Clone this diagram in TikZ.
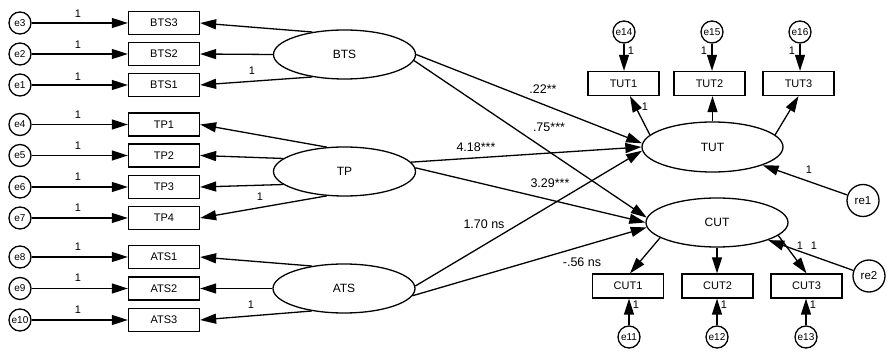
\documentclass[tikz,border=0pt]{standalone}
\usepackage{fontspec}
\setmainfont{Liberation Sans}
\usetikzlibrary{arrows.meta,shapes.geometric,calc}
\begin{document}
\begin{tikzpicture}[x=1pt,y=-1pt,
 every node/.style={inner sep=0pt},
 obs/.style={draw,rectangle,minimum width=71pt,minimum height=23pt,line width=1.3pt,font=\fontsize{11}{13}\selectfont},
 lat/.style={draw,ellipse,minimum width=142pt,minimum height=49pt,line width=1.3pt,font=\fontsize{12}{14}\selectfont},
 err/.style={draw,circle,minimum size=22pt,line width=1.3pt,font=\fontsize{10}{12}\selectfont},
 res/.style={draw,circle,minimum size=32pt,line width=1.3pt,font=\fontsize{11.5}{13}\selectfont},
 arr/.style={line width=1.3pt,-{Triangle[length=16pt,width=10pt]}},
 one/.style={font=\fontsize{11}{13}\selectfont},
 coef/.style={font=\fontsize{12.5}{14}\selectfont}]
\useasboundingbox (0,0) rectangle (888,352);

% latent variables
\node[lat] (BTS) at (344.5,54.5) {BTS};
\node[lat] (TP)  at (344.5,171.5) {TP};
\node[lat] (ATS) at (344,288.5) {ATS};
\node[lat,minimum width=141pt,minimum height=50pt] (TUT) at (712.5,147) {TUT};
\node[lat] (CUT) at (717,222.5) {CUT};

% left indicators
\node[obs] (BTS3) at (164,23) {BTS3};
\node[obs] (BTS2) at (164,54) {BTS2};
\node[obs] (BTS1) at (164,85) {BTS1};
\node[obs] (TP1) at (164,124.5) {TP1};
\node[obs] (TP2) at (164,155.5) {TP2};
\node[obs] (TP3) at (164,187) {TP3};
\node[obs] (TP4) at (164,218) {TP4};
\node[obs] (ATS1) at (164,257) {ATS1};
\node[obs] (ATS2) at (164,288.5) {ATS2};
\node[obs] (ATS3) at (164,320) {ATS3};

% left errors
\node[err] (e3) at (20,23) {e3};
\node[err] (e2) at (20,54) {e2};
\node[err] (e1) at (20,85) {e1};
\node[err] (e4) at (20,124.5) {e4};
\node[err] (e5) at (20,155.5) {e5};
\node[err] (e6) at (20,187) {e6};
\node[err] (e7) at (20,218) {e7};
\node[err] (e8) at (20,257) {e8};
\node[err] (e9) at (20,288.5) {e9};
\node[err] (e10) at (20,320) {e10};

% right indicators
\node[obs,minimum height=24pt] (TUT1) at (623.5,83.5) {TUT1};
\node[obs,minimum height=24pt] (TUT2) at (709.5,83.5) {TUT2};
\node[obs,minimum height=24pt] (TUT3) at (798.5,83.5) {TUT3};
\node[obs,minimum height=24pt] (CUT1) at (628,286) {CUT1};
\node[obs,minimum height=24pt] (CUT2) at (717.5,286) {CUT2};
\node[obs,minimum height=24pt] (CUT3) at (806.5,286) {CUT3};

\node[err] (e14) at (624,32) {e14};
\node[err] (e15) at (712,32) {e15};
\node[err] (e16) at (800,32) {e16};
\node[err] (e11) at (629,337) {e11};
\node[err] (e12) at (717,337) {e12};
\node[err] (e13) at (806,337) {e13};

\node[res] (re1) at (863,200.5) {re1};
\node[res] (re2) at (869,276) {re2};

% error arrows left
\foreach \e/\b in {e3/BTS3,e2/BTS2,e1/BTS1,e4/TP1,e5/TP2,e6/TP3,e7/TP4,e8/ATS1,e9/ATS2,e10/ATS3}
  \draw[arr] (\e) -- (\b.west);
\foreach \e/\y in {e3/14,e2/45,e1/77,e4/115,e5/146,e6/177,e7/208,e8/247,e9/278,e10/310}
  \node[one] (l\e) at (78,\y) {1};

% loadings left
\draw[arr] (BTS.145) -- (BTS3.east);
\draw[arr] (BTS.west) -- (BTS2.east);
\draw[arr] (BTS.215) -- (BTS1.east);
\draw[arr] (TP.126) -- (TP1.east);
\draw[arr] (TP.168) -- (TP2.east);
\draw[arr] (TP.192) -- (TP3.east);
\draw[arr] (TP.234) -- (TP4.east);
\draw[arr] (ATS.145) -- (ATS1.east);
\draw[arr] (ATS.west) -- (ATS2.east);
\draw[arr] (ATS.215) -- (ATS3.east);
\node[one] (lBTS1) at (252,71) {1};
\node[one] (lTP4) at (260,197) {1};
\node[one] (lATS3) at (251,305) {1};

% structural paths
\draw[arr] (BTS.east) -- (TUT.177);
\draw[arr] (BTS.355) -- (CUT.176);
\draw[arr] (TP.8) -- (TUT.180);
\draw[arr] (TP.3) -- (CUT.180);
\draw[arr] (ATS.2) -- (TUT.183);
\draw[arr] (ATS.354) -- (CUT.184);
\node[coef] (c1) at (543,89) {.22**};
\node[coef] (c2) at (549,127) {.75***};
\node[coef] (c3) at (476,147) {4.18***};
\node[coef] (c4) at (550,183) {3.29***};
\node[coef] (c5) at (484,224) {1.70 ns};
\node[coef] (c6) at (582,262) {-.56 ns};

% TUT measurement
\draw[arr] (TUT.169) -- (TUT1);
\draw[arr] (TUT.north) -- (TUT.north |- TUT2.south);
\draw[arr] (TUT.11) -- (TUT3.south);
\node[one] (lTUT1) at (645,107) {1};
\draw[arr] (e14) -- (e14 |- TUT1.north);
\draw[arr] (e15) -- (e15 |- TUT2.north);
\draw[arr] (e16) -- (e16 |- TUT3.north);
\node[one] (le14) at (631,51) {1};
\node[one] (le15) at (704,51) {1};
\node[one] (le16) at (792,51) {1};
\draw[arr] (re1) -- (TUT.340);
\node[one] (lre1) at (809,170) {1};

% CUT measurement
\draw[arr] (CUT.195) -- ($(CUT1.north)+(2,0)$);
\draw[arr] (CUT.south) -- (CUT.south |- CUT2.north);
\draw[arr] (CUT.348) -- (CUT3.north);
\draw[arr] (e11) -- (e11 |- CUT1.south);
\draw[arr] (e12) -- (e12 |- CUT2.south);
\draw[arr] (e13) -- (e13 |- CUT3.south);
\node[one] (le11) at (636,305) {1};
\node[one] (le12) at (724,305) {1};
\node[one] (le13) at (813,305) {1};
\draw[arr] (re2) -- (CUT.341);
\node[one] (lCUT3) at (800,246) {1};
\node[one] (lre2) at (814,246) {1};
\end{tikzpicture}
\end{document}
